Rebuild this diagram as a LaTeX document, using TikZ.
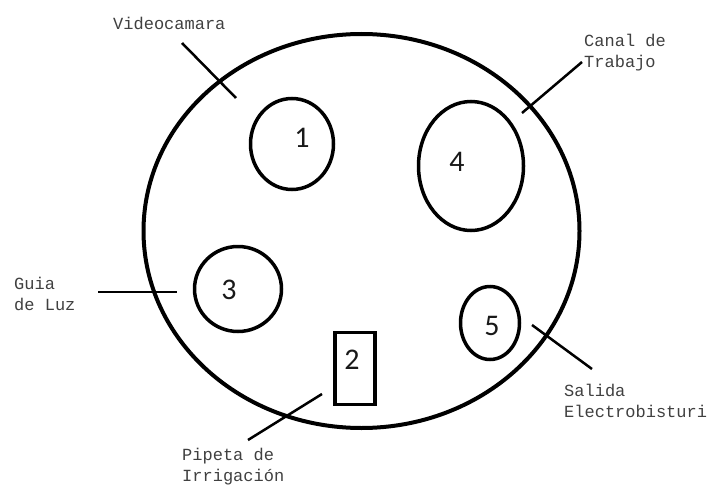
\documentclass[tikz,border=0pt]{standalone}
\usepackage{fontspec}
\setmonofont{Liberation Mono}
\setsansfont{Carlito}
\usetikzlibrary{shapes.geometric}

\begin{document}
\begin{tikzpicture}[x=1pt, y=-1pt, every node/.style={inner sep=0pt},
  hole/.style={draw, ellipse, line width=3.5pt},
  num/.style={font=\sffamily\fontsize{30}{30}\selectfont, text=black!90},
  tag/.style={font=\ttfamily\fontsize{17}{21}\selectfont, text=black!75, align=left, anchor=west},
  lead/.style={line width=2.5pt}]
\useasboundingbox (0,0) rectangle (709,487);
% cuerpo
\node[draw, ellipse, line width=4pt, minimum width=436pt, minimum height=394pt] (body) at (361.5,231) {};
% canales
\node[hole, minimum width=83pt, minimum height=91pt] (c1) at (292,144) {};
\node[hole, minimum width=87pt, minimum height=85pt] (c3) at (238,289) {};
\node[hole, minimum width=105pt, minimum height=129pt] (c4) at (471,166) {};
\node[hole, minimum width=59pt, minimum height=73pt] (c5) at (490,323) {};
\node[draw, line width=3.5pt, minimum width=40pt, minimum height=72pt] (c2) at (355,368.5) {};
\node[num] (n1) at (302,138) {1};
\node[num] (n2) at (352,360) {2};
\node[num] (n3) at (229,290) {3};
\node[num] (n4) at (457,162) {4};
\node[num] (n5) at (492,326) {5};
% etiquetas
\node[tag] (video) at (113,23) {Videocamara};
\node[tag] (canal) at (584,53) {Canal de\\Trabajo};
\node[tag] (guia) at (14,294) {Guia\\de Luz};
\node[tag] (pipeta) at (182,467) {Pipeta de\\Irrigación};
\node[tag] (salida) at (564,401) {Salida\\Electrobisturi};
\coordinate (videoA) at (182,43);   \coordinate (videoB) at (236,98);
\coordinate (canalA) at (582,62);   \coordinate (canalB) at (522,113);
\coordinate (guiaA) at (98,292);    \coordinate (guiaB) at (177,292);
\coordinate (pipetaA) at (248,440); \coordinate (pipetaB) at (322,394);
\coordinate (salidaA) at (532,325); \coordinate (salidaB) at (592,369);
\draw[lead] (videoA) -- (videoB);
\draw[lead] (canalA) -- (canalB);
\draw[lead] (guiaA) -- (guiaB);
\draw[lead] (pipetaA) -- (pipetaB);
\draw[lead] (salidaA) -- (salidaB);
\end{tikzpicture}
\end{document}
